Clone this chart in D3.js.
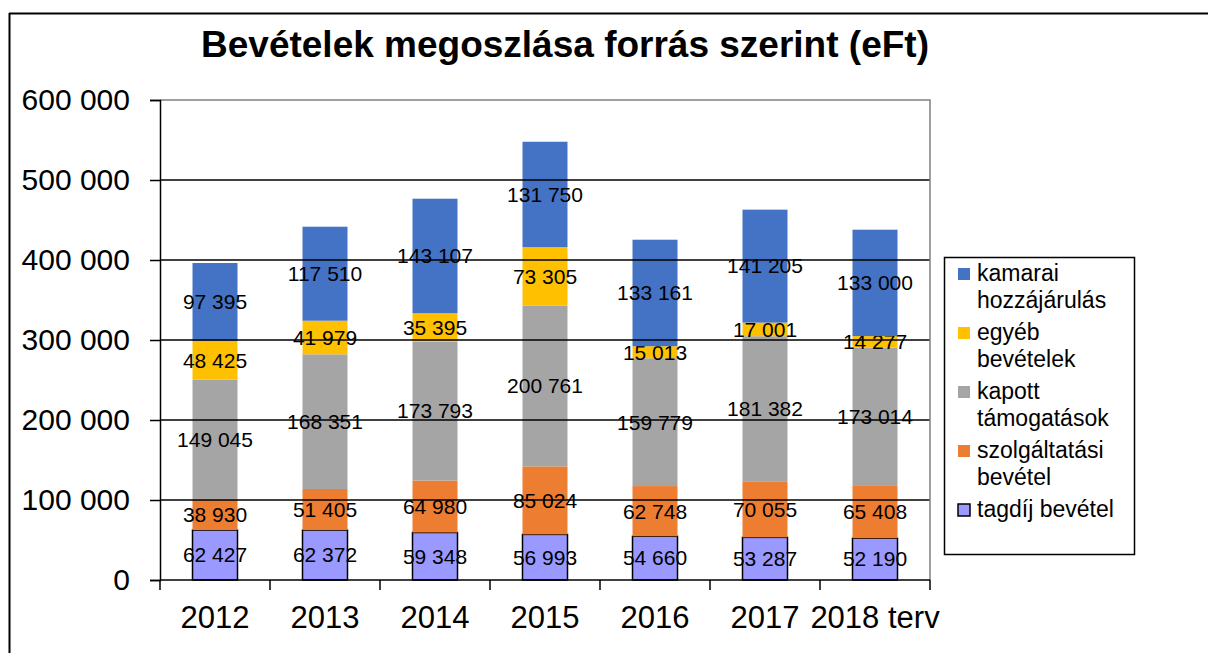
<!DOCTYPE html>
<html>
<head>
<meta charset="utf-8">
<script src="https://cdn.jsdelivr.net/npm/d3@7"></script>
<style>
  body { margin: 0; background: #fff; }
  text { font-family: "Liberation Sans", Arial, sans-serif; fill: #000; }
</style>
</head>
<body>
<svg id="chart" width="1208" height="653"></svg>
<script>
const years = ["2012", "2013", "2014", "2015", "2016", "2017", "2018 terv"];

// stacked bottom to top
const tagdij = [62427, 62372, 59348, 56993, 54660, 53287, 52190];
const szolgaltatasi = [38930, 51405, 64980, 85024, 62748, 70055, 65408];
const kapott = [149045, 168351, 173793, 200761, 159779, 181382, 173014];
const egyeb = [48425, 41979, 35395, 73305, 15013, 17001, 14277];
const kamarai = [97395, 117510, 143107, 131750, 133161, 141205, 133000];

const seriesKeys = ["tagdij", "szolg", "kapott", "egyeb", "kamarai"];
const seriesLabels = {
  tagdij: ["tagdíj bevétel"],
  szolg: ["szolgáltatási", "bevétel"],
  kapott: ["kapott", "támogatások"],
  egyeb: ["egyéb", "bevételek"],
  kamarai: ["kamarai", "hozzájárulás"]
};
const colors = {
  tagdij: "#9999ff",
  szolg: "#ed7d31",
  kapott: "#a5a5a5",
  egyeb: "#ffc000",
  kamarai: "#4472c4"
};

const yTicks = [0, 100000, 200000, 300000, 400000, 500000, 600000];

let rows = years.map((yr, i) => ({
  year: yr,
  tagdij: tagdij[i],
  szolg: szolgaltatasi[i],
  kapott: kapott[i],
  egyeb: egyeb[i],
  kamarai: kamarai[i]
}));

let fmt = v => d3.format(",")(v).replace(/,/g, " ");

let svg = d3.select("#chart");

let x = d3
  .scaleBand()
  .domain(years)
  .range([160, 930])
  .paddingInner(65 / 110)
  .paddingOuter(65 / 220);

let y = d3
  .scaleLinear()
  .domain([0, 600000])
  .range([580, 100]);

// outer frame (only top and left visible)
svg.append("line")
  .attr("x1", 9).attr("x2", 1208).attr("y1", 13.5).attr("y2", 13.5)
  .attr("stroke", "#000").attr("stroke-width", 2);
svg.append("line")
  .attr("x1", 9.5).attr("x2", 9.5).attr("y1", 13).attr("y2", 653)
  .attr("stroke", "#000").attr("stroke-width", 2);

svg.append("text")
  .attr("x", 565)
  .attr("y", 57)
  .attr("font-size", 37)
  .attr("font-weight", "bold")
  .style("text-anchor", "middle")
  .text("Bevételek megoszlása forrás szerint (eFt)");

let stacked = d3.stack().keys(seriesKeys)(rows);

let layers = svg.selectAll(".layer")
  .data(stacked)
  .enter()
  .append("g")
  .classed("layer", true)
  .attr("fill", d => colors[d.key]);

layers.selectAll("rect")
  .data(d => d.map(s => ({ key: d.key, s: s })))
  .enter()
  .append("rect")
  .attr("x", d => x(d.s.data.year))
  .attr("width", x.bandwidth())
  .attr("y", d => y(d.s[1]))
  .attr("height", d => y(d.s[0]) - y(d.s[1]))
  .attr("stroke", d => d.key === "tagdij" ? "#000" : "none")
  .attr("stroke-width", 1.5);

// gridlines sit above the bars
svg.append("g")
  .selectAll("line")
  .data(yTicks.filter(t => t > 0 && t < 600000))
  .enter()
  .append("line")
  .attr("x1", 160).attr("x2", 930)
  .attr("y1", d => y(d)).attr("y2", d => y(d))
  .attr("stroke", "#000")
  .attr("stroke-width", 1.5);

// plot area border, top and right
svg.append("path")
  .attr("d", `M160,${y(600000)}H930V${y(0)}`)
  .attr("fill", "none")
  .attr("stroke", "#808080")
  .attr("stroke-width", 1.5);

// y axis
let yAxis = svg.append("g")
  .attr("transform", "translate(160,0)")
  .call(d3.axisLeft(y).tickValues(yTicks).tickSize(10).tickPadding(20).tickFormat(fmt));
yAxis.select(".domain").attr("stroke", "#000").attr("stroke-width", 1.5);
yAxis.selectAll(".tick line").attr("stroke", "#000").attr("stroke-width", 1.5);
yAxis.selectAll("text")
  .attr("font-size", 30)
  .attr("font-family", "Liberation Sans, Arial, sans-serif")
  .attr("fill", "#000");

// x axis
let xAxis = svg.append("g")
  .attr("transform", `translate(0,${y(0)})`)
  .call(d3.axisBottom(x).tickSize(0).tickPadding(26));
xAxis.select(".domain").remove();
xAxis.selectAll("text")
  .attr("font-size", 31)
  .attr("font-family", "Liberation Sans, Arial, sans-serif")
  .attr("fill", "#000");

let bounds = years.map(yr => x(yr) - (x.step() - x.bandwidth()) / 2);
bounds.push(bounds[bounds.length - 1] + x.step());

svg.append("line")
  .attr("x1", 160).attr("x2", 930)
  .attr("y1", y(0)).attr("y2", y(0))
  .attr("stroke", "#000").attr("stroke-width", 1.5);

svg.append("g")
  .selectAll("line")
  .data(bounds)
  .enter()
  .append("line")
  .attr("x1", d => d).attr("x2", d => d)
  .attr("y1", y(0)).attr("y2", y(0) + 10)
  .attr("stroke", "#000").attr("stroke-width", 1.5);

// data labels
layers.selectAll(".lbl")
  .data(d => d)
  .enter()
  .append("text")
  .classed("lbl", true)
  .attr("x", d => x(d.data.year) + x.bandwidth() / 2)
  .attr("y", d => (y(d[0]) + y(d[1])) / 2)
  .attr("dy", "0.35em")
  .attr("font-size", 21)
  .style("text-anchor", "middle")
  .style("fill", "#000")
  .text(d => fmt(d[1] - d[0]));

// legend
let legend = svg.append("g");
legend.append("rect")
  .attr("x", 944.5).attr("y", 257.5)
  .attr("width", 190).attr("height", 297)
  .attr("fill", "#fff")
  .attr("stroke", "#000")
  .attr("stroke-width", 1.5);

let items = legend.selectAll(".item")
  .data(seriesKeys.slice().reverse())
  .enter()
  .append("g")
  .classed("item", true)
  .attr("transform", (d, i) => `translate(958,${281 + i * 59})`);

items.append("rect")
  .attr("x", 0).attr("y", -13)
  .attr("width", 12).attr("height", 12)
  .attr("fill", d => colors[d])
  .attr("stroke", d => d === "tagdij" ? "#000" : "none")
  .attr("stroke-width", 1.5);

items.append("text")
  .attr("x", 19)
  .attr("font-size", 23)
  .selectAll("tspan")
  .data(d => seriesLabels[d])
  .enter()
  .append("tspan")
  .attr("x", 19)
  .attr("dy", (d, i) => i === 0 ? 0 : 27)
  .text(d => d);
</script>
</body>
</html>
